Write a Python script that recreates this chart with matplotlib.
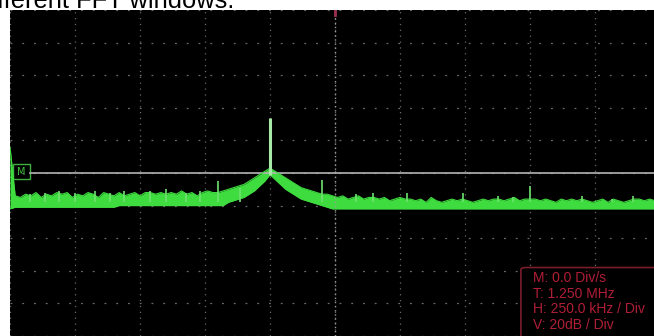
import numpy as np
import matplotlib
matplotlib.use('Agg')
import matplotlib.pyplot as plt
from matplotlib.patches import Rectangle, FancyBboxPatch

# FFT display, 250 kHz/div, 20 dB/div
step = 0.02  # MHz per bin
upper = [-84, -114, -115, -113, -114, -112, -115, -113, -114, -112,
         -113, -112, -115, -113, -114, -112, -113, -115, -112, -113,
         -114, -112, -114, -113, -112, -114, -112, -112, -113, -112,
         -113, -112, -113, -111, -113, -112, -114, -112, -111, -112,
         -112, -111, -110, -109, -108, -107, -105, -103, -101, -99,
         -97, -99, -101, -103, -105, -107, -109, -110, -111, -112,
         -113, -113, -114, -115, -114, -116, -115, -114, -116, -115,
         -115, -116, -115, -117, -116, -115, -116, -116, -117, -116,
         -118, -115, -117, -118, -117, -116, -117, -116, -117, -118,
         -117, -116, -117, -116, -116, -117, -116, -115, -117, -116,
         -116, -116, -117, -116, -117, -118, -116, -117, -116, -117,
         -116, -117, -118, -117, -116, -118, -116, -117, -118, -117,
         -116, -116, -117, -116, -117]
lower = [-122, -121, -121, -121, -121, -121, -121, -121, -121, -121,
         -121, -121, -121, -121, -121, -121, -121, -121, -121, -121,
         -121, -120, -120, -120, -120, -120, -120, -120, -120, -120,
         -120, -120, -120, -120, -120, -120, -120, -120, -120, -120,
         -120, -120, -118, -117, -116, -115, -113, -111, -108, -105,
         -101, -104, -107, -110, -112, -114, -116, -117, -118, -119,
         -120, -121, -122, -122, -122, -122, -122, -122, -122, -122,
         -122, -122, -122, -122, -122, -122, -122, -122, -122, -122,
         -122, -122, -122, -122, -122, -122, -122, -122, -122, -122,
         -122, -122, -122, -122, -122, -122, -122, -122, -122, -122,
         -122, -122, -122, -122, -122, -122, -122, -122, -122, -122,
         -122, -122, -122, -122, -122, -122, -122, -122, -122, -122,
         -122, -122, -122, -122, -122]
spur_freq = [0.077, 0.135, 0.19, 0.25, 0.327, 0.385, 0.44, 0.54, 0.60, 0.675,
             0.73, 0.80, 0.885, 1.20, 1.33, 1.396, 1.527, 1.742, 1.877, 1.935,
             2.0, 2.2, 2.315, 2.396]
spur_level = [-113, -112, -111, -112, -111, -112, -111, -111, -110, -112,
              -111, -105, -109, -104, -113, -112, -112, -112, -114, -115,
              -108, -114, -116, -114]
peak_freq = 1.0
peak_level = -66
info_lines = ['M: 0.0 Div/s', 'T: 1.250 MHz', 'H: 250.0 kHz / Div', 'V: 20dB / Div']

freq = np.arange(len(upper)) * step

fig = plt.figure(figsize=(6.54, 3.36), dpi=100, facecolor='white')
ax = fig.add_axes([10 / 654, 0, 644 / 654, 326 / 336])
ax.set_facecolor('black')
ax.set_xlim(0, 644 / 260)
ax.set_ylim(-200, 0)
ax.set_xticks(np.arange(0, 2.5, 0.25))
ax.set_yticks(np.arange(-200, 1, 20))
ax.tick_params(length=0, labelbottom=False, labelleft=False)
for s in ax.spines.values():
    s.set_visible(False)

# dotted screen grid
ax.xaxis.grid(True, color='#6a6a6a', lw=0.9, linestyle=(0, (1, 3.7)))
ax.yaxis.grid(True, color='#6a6a6a', lw=0.9, linestyle=(0, (1.5, 7.9)))
ax.set_axisbelow(True)
ax.axvline(1.25, color='#9a9a9a', lw=1, linestyle=(0, (1, 2)))
ax.plot([1.25, 1.25], [-3, 0], color='#a03050', lw=2)

# marker line and label
ax.plot([0.077, 644 / 260], [-100, -100], color='#b4b4b4', lw=1.2)
ax.add_patch(Rectangle((0.012, -103.5), 0.065, 8.8, fill=False, ec='#3fb03f', lw=1))
ax.text(0.044, -99.2, 'M', color='#3fc03f', fontsize=7, ha='center', va='center')

# trace
green = '#3fdc3f'
ax.fill_between(freq, lower, upper, color=green, lw=0)
ax.plot(freq, upper, color=green, lw=0.8)
ax.plot(freq, lower, color=green, lw=0.8)
ax.vlines(spur_freq, -118, spur_level, color='#6ee26e', lw=1.2)
ax.vlines(peak_freq, -101, peak_level, color='#a8e8a8', lw=2.2)

# info box
ax.add_patch(FancyBboxPatch((1.965, -215), 0.6, 57, boxstyle='round,pad=0,rounding_size=0.02',
                            fc='black', ec='#7a1c2c', lw=1.2, mutation_aspect=60, zorder=4))
for k, line in enumerate(info_lines):
    ax.text(2.012, -164.5 - 9.6 * k, line, color='#b01e36', fontsize=10, va='center',
            family='Liberation Sans', zorder=5)

fig.text(-3 / 654, (336 - 7.5) / 336, 'fferent FFT windows.', fontsize=18.4,
         family='Liberation Sans', va='baseline', color='black')

fig.savefig('out.png', dpi=100, facecolor='white')
